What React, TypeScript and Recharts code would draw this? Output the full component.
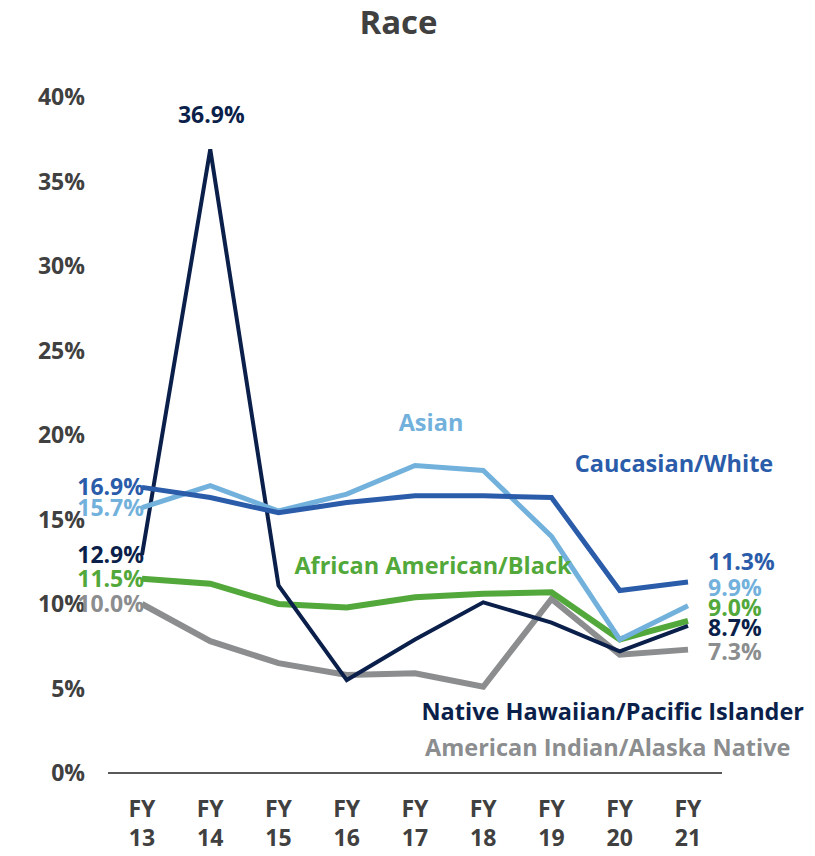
import { LineChart, Line, XAxis, YAxis } from 'recharts';

const years = ['13', '14', '15', '16', '17', '18', '19', '20', '21'];
const caucasian = [16.9, 16.3, 15.4, 16.0, 16.4, 16.4, 16.3, 10.8, 11.3];
const asian = [15.7, 17.0, 15.5, 16.5, 18.2, 17.9, 14.0, 7.9, 9.9];
const hawaiian = [12.9, 36.9, 11.1, 5.5, 7.9, 10.1, 8.9, 7.2, 8.7];
const african = [11.5, 11.2, 10.0, 9.8, 10.4, 10.6, 10.7, 7.9, 9.0];
const indian = [10.0, 7.8, 6.5, 5.8, 5.9, 5.1, 10.3, 7.0, 7.3];
const yTicks = [0, 5, 10, 15, 20, 25, 30, 35, 40];

const data = years.map((y, i) => ({
    year: y,
    caucasian: caucasian[i],
    asian: asian[i],
    hawaiian: hawaiian[i],
    african: african[i],
    indian: indian[i],
}));

const FONT = '"Open Sans", sans-serif';
const AXIS = '#404040';

// label placement for each series: start label, end label, name label, extra peak label
const series = [
    { key: 'indian', name: 'American Indian/Alaska Native', color: '#8b8d8f', width: 6, endDy: 2, nameAt: 7, nameDx: -12, nameDy: 93 },
    { key: 'african', name: 'African American/Black', color: '#52a83a', width: 6, endDy: -13, nameAt: 4, nameDx: 18, nameDy: -31 },
    { key: 'hawaiian', name: 'Native Hawaiian/Pacific Islander', color: '#0b1f4b', width: 4, endDy: 2, nameAt: 7, nameDx: -7, nameDy: 61, peak: 1 },
    { key: 'asian', name: 'Asian', color: '#72b1dc', width: 5, endDy: -18, nameAt: 4, nameDx: 16, nameDy: -42 },
    { key: 'caucasian', name: 'Caucasian/White', color: '#2a5caa', width: 5, endDy: -20, nameAt: 8, nameDx: -14, nameDy: -118 },
];

function makeLabel(s: any) {
    return (props: any) => {
        const { x, y, index, value } = props;
        const last = years.length - 1;
        const style = { fontFamily: FONT, fontWeight: 700, fill: s.color };
        const parts: any[] = [];
        if (index === 0) {
            parts.push(
                <text key="s" x={x + 2} y={y} dy={8} textAnchor="end" fontSize={23} style={style}>
                    {value.toFixed(1)}%
                </text>
            );
        }
        if (index === last) {
            parts.push(
                <text key="e" x={x + 20} y={y + s.endDy} dy={8} textAnchor="start" fontSize={23} style={style}>
                    {value.toFixed(1)}%
                </text>
            );
        }
        if (s.peak === index) {
            parts.push(
                <text key="p" x={x + 1} y={y - 34} dy={8} textAnchor="middle" fontSize={23} style={style}>
                    {value.toFixed(1)}%
                </text>
            );
        }
        if (index === s.nameAt) {
            parts.push(
                <text key="n" x={x + s.nameDx} y={y + s.nameDy} dy={8} textAnchor="middle" fontSize={23.5} style={style}>
                    {s.name}
                </text>
            );
        }
        return <g key={`l-${index}`}>{parts}</g>;
    };
}

function YearTick(props: any) {
    const { x, y, payload } = props;
    return (
        <g>
            <text x={x} y={y + 36} textAnchor="middle" fontSize={23} fontWeight={700} fontFamily={FONT} fill={AXIS}>
                FY
            </text>
            <text x={x} y={y + 65} textAnchor="middle" fontSize={23} fontWeight={700} fontFamily={FONT} fill={AXIS}>
                {payload.value}
            </text>
        </g>
    );
}

export default function App() {
    return (
        <div style={{ position: 'absolute', left: 0, top: 0, width: 815, height: 856, background: '#fff' }}>
            <div
                style={{
                    position: 'absolute',
                    left: 0,
                    width: 815,
                    top: 0,
                    textAlign: 'center',
                    fontFamily: FONT,
                    fontWeight: 700,
                    fontSize: 33,
                    lineHeight: '44px',
                    color: AXIS,
                    paddingRight: 18,
                    boxSizing: 'border-box',
                }}
            >
                Race
            </div>
            <LineChart width={815} height={856} data={data} margin={{ top: 97, right: 93, bottom: 0, left: 0 }}>
                <XAxis
                    dataKey="year"
                    height={83}
                    padding={{ left: 34, right: 34 }}
                    tickLine={false}
                    axisLine={{ stroke: '#595959', strokeWidth: 2 }}
                    tick={<YearTick />}
                    interval={0}
                />
                <YAxis
                    width={108}
                    domain={[0, 40]}
                    ticks={yTicks}
                    axisLine={false}
                    tickLine={false}
                    tickSize={0}
                    tickMargin={23}
                    tickFormatter={(v) => `${v}%`}
                    tick={{ fill: AXIS, fontSize: 23, fontWeight: 700, fontFamily: FONT }}
                />
                {series.map((s) => (
                    <Line
                        key={s.key}
                        dataKey={s.key}
                        stroke={s.color}
                        strokeWidth={s.width}
                        dot={false}
                        activeDot={false}
                        strokeLinejoin="miter"
                        isAnimationActive={false}
                        label={makeLabel(s)}
                    />
                ))}
            </LineChart>
        </div>
    );
}
